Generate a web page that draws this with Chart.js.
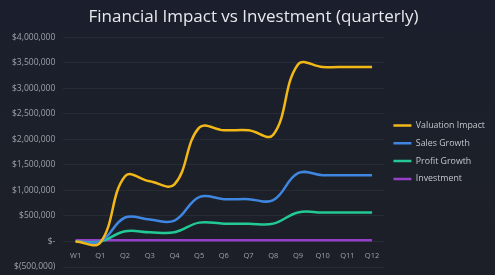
<!DOCTYPE html>
<html>
<head>
<meta charset="utf-8">
<script src="https://cdn.jsdelivr.net/npm/chart.js@4/dist/chart.umd.min.js"></script>
<style>
  html, body { margin: 0; padding: 0; background: #1c2029; }
  #wrap { width: 495px; height: 275px; position: relative; background: linear-gradient(180deg, #1b1f2d 0%, #1c2029 60%, #1c1f27 100%); }
</style>
</head>
<body>
<div id="wrap"><canvas id="impactChart"></canvas></div>
<script>
const quarters = ['W1', 'Q1', 'Q2', 'Q3', 'Q4', 'Q5', 'Q6', 'Q7', 'Q8', 'Q9', 'Q10', 'Q11', 'Q12'];
const valuationImpact = [0, -20000, 1280000, 1180000, 1120000, 2230000, 2180000, 2180000, 2090000, 3470000, 3420000, 3420000, 3420000];
const salesGrowth = [0, 0, 470000, 430000, 410000, 870000, 830000, 830000, 810000, 1340000, 1300000, 1300000, 1300000];
const profitGrowth = [0, 0, 200000, 180000, 180000, 370000, 350000, 350000, 350000, 570000, 570000, 570000, 570000];
const investment = [25000, 25000, 25000, 25000, 25000, 25000, 25000, 25000, 25000, 25000, 25000, 25000, 25000];
const yTicks = [-500000, 0, 500000, 1000000, 1500000, 2000000, 2500000, 3000000, 3500000, 4000000];

const fmtMoney = (v) => {
  if (v === 0) return '$-';
  if (v < 0) return '$(' + Math.abs(v).toLocaleString('en-US') + ')';
  return '$' + v.toLocaleString('en-US');
};

const mkLine = (label, data, color) => ({
  label: label,
  data: data,
  borderColor: color,
  backgroundColor: color,
  borderWidth: 2.5,
  pointRadius: 0,
  tension: 0.4,
  fill: false,
});

new Chart(document.getElementById('impactChart'), {
  type: 'line',
  data: {
    labels: quarters,
    datasets: [
      mkLine('Valuation Impact', valuationImpact, '#f2b817'),
      mkLine('Sales Growth', salesGrowth, '#3f86e0'),
      mkLine('Profit Growth', profitGrowth, '#22c995'),
      mkLine('Investment', investment, '#9440c8'),
    ],
  },
  options: {
    responsive: true,
    maintainAspectRatio: false,
    animation: false,
    layout: { padding: { left: 12, right: 0, top: 0, bottom: 8 } },
    plugins: {
      title: {
        display: true,
        text: 'Financial Impact vs Investment (quarterly)',
        color: '#e8e9ec',
        font: { family: 'Open Sans', size: 17, weight: 'normal' },
        padding: { top: 7, bottom: 10 },
      },
      legend: {
        position: 'right',
        align: 'center',
        fullSize: false,
        labels: {
          color: '#c3c6cc',
          font: { family: 'Open Sans', size: 8.8 },
          usePointStyle: true,
          pointStyle: 'line',
          pointStyleWidth: 18,
          padding: 9,
        },
      },
      tooltip: { enabled: false },
    },
    scales: {
      x: {
        position: { y: 0 },
        offset: true,
        grid: { display: false },
        border: { display: false },
        ticks: {
          color: '#9da1a9',
          font: { family: 'Open Sans', size: 7.5 },
          maxRotation: 0,
          padding: 2,
        },
        // labels sit on the zero line, so the axis takes no room at the bottom
        afterFit: (scale) => { scale.height = 0; },
      },
      y: {
        min: -500000,
        max: 4000000,
        afterBuildTicks: (scale) => { scale.ticks = yTicks.map((v) => ({ value: v })); },
        grid: { color: 'rgba(255,255,255,0.05)', tickColor: 'transparent', tickLength: 8 },
        border: { display: false },
        ticks: {
          color: '#9da1a9',
          font: { family: 'Open Sans', size: 8.5 },
          padding: 0,
          callback: (v) => fmtMoney(v),
        },
      },
    },
  },
});
</script>
</body>
</html>
